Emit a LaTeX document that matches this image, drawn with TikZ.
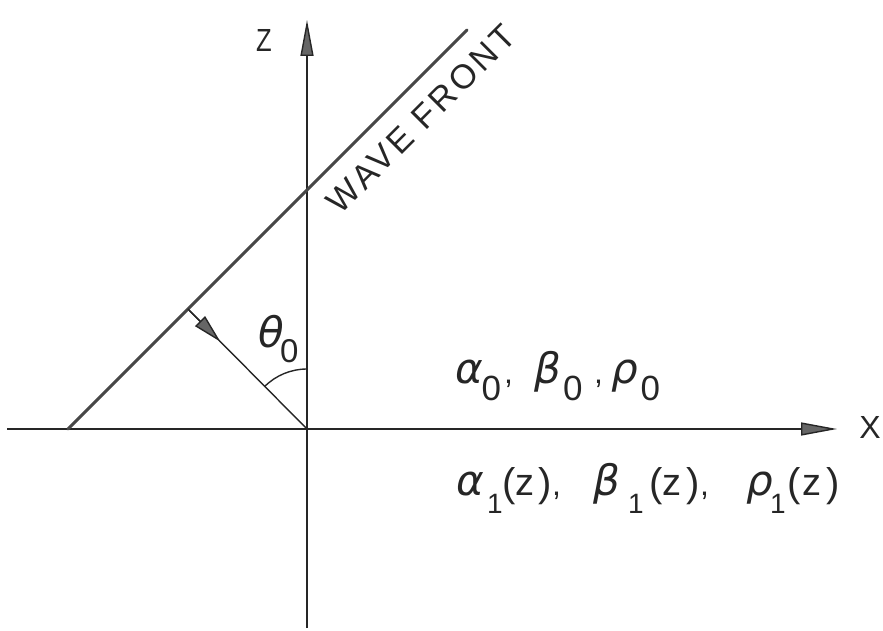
\documentclass[tikz,border=0pt]{standalone}
\usepackage{fontspec}
\setmainfont{Liberation Sans}
\newfontfamily\gkfont{DejaVu Sans}
\usetikzlibrary{arrows.meta,calc}
\newcommand{\sz}[1]{\fontsize{#1}{#1}\selectfont}
\newcommand{\gk}[1]{{\gkfont\itshape\sz{42}#1}}
\newcommand{\pc}[3][0]{\makebox[#2pt][l]{\raisebox{#1pt}{#3}}}
\begin{document}
\begin{tikzpicture}[x=1pt,y=1pt,
  axis/.style={line width=1.4pt, draw=black!85},
  front/.style={line width=3pt, draw=black!72, line cap=round},
  bigtip/.style={-{Triangle[length=36pt,width=13pt,fill=black!60]}},
  smalltip/.style={-{Triangle[length=29pt,width=14pt,fill=black!60]}},
  lbl/.style={font=\sz{32}, inner sep=0pt, text=black!85}
]
\useasboundingbox (0,0) rectangle (883,630);
\coordinate (O) at (307,201);
\coordinate (Xl) at (7,201);
\coordinate (Xr) at (837,201);
\coordinate (Zb) at (307,2);
\coordinate (Zt) at (307,610);
\coordinate (A) at (68,201);
\coordinate (B) at (467,600);
\coordinate (F) at (188,321);
% axes
\draw[axis,bigtip] (Xl) -- (Xr);
\draw[axis,bigtip] (Zb) -- (Zt);
% wave front
\draw[front] (A) -- (B);
% normal
\draw[axis] (F) -- (O);
\draw[axis,smalltip] (F) -- ($(F)!46pt!(O)$);
% angle arc
\draw[axis] ($(O)+(0,60)$) arc[start angle=90,end angle=135,radius=60];
% labels
\node[lbl] (xlab) at (870,203) {X};
\node[lbl] (zlab) at (264,590) {\scalebox{0.8}[1]{Z}};
\node[lbl,rotate=45] (wf) at (421,511) {\sz{34}\addfontfeature{LetterSpace=10}WAVE FRONT};
\node[lbl,anchor=base west] (theta) at (258,283)
  {\pc{22}{\gk{θ}}\pc[-15]{18}{\sz{33}0}};
\node[lbl,anchor=base west] (top) at (453,247)
  {\hspace*{2pt}\pc{26.5}{\gk{α}}\pc[-17]{22.5}{\sz{35}0}\pc{30}{,}%
   \pc{29}{\gk{β}}\pc[-17]{31}{\sz{35}0}\pc{17}{,}%
   \pc{29.5}{\gk{ρ}}\pc[-17]{20}{\sz{35}0}};
\node[lbl,anchor=base west] (bot) at (453,135)
  {\hspace*{3pt}\pc{31}{\gk{α}}\pc[-18]{15}{\sz{28}1}\pc[-1]{13}{\sz{40}(}\pc{23}{\sz{38}z}\pc[-1]{14}{\sz{40})}\pc{41}{,}%
   \pc{35}{\gk{β}}\pc[-18]{21}{\sz{28}1}\pc[-1]{13}{\sz{40}(}\pc{24}{\sz{38}z}\pc[-1]{14}{\sz{40})}\pc{46}{,}%
   \pc{24}{\gk{ρ}}\pc[-18]{17}{\sz{28}1}\pc[-1]{15}{\sz{40}(}\pc{24}{\sz{38}z}\pc[-1]{15}{\sz{40})}};
\end{tikzpicture}
\end{document}
